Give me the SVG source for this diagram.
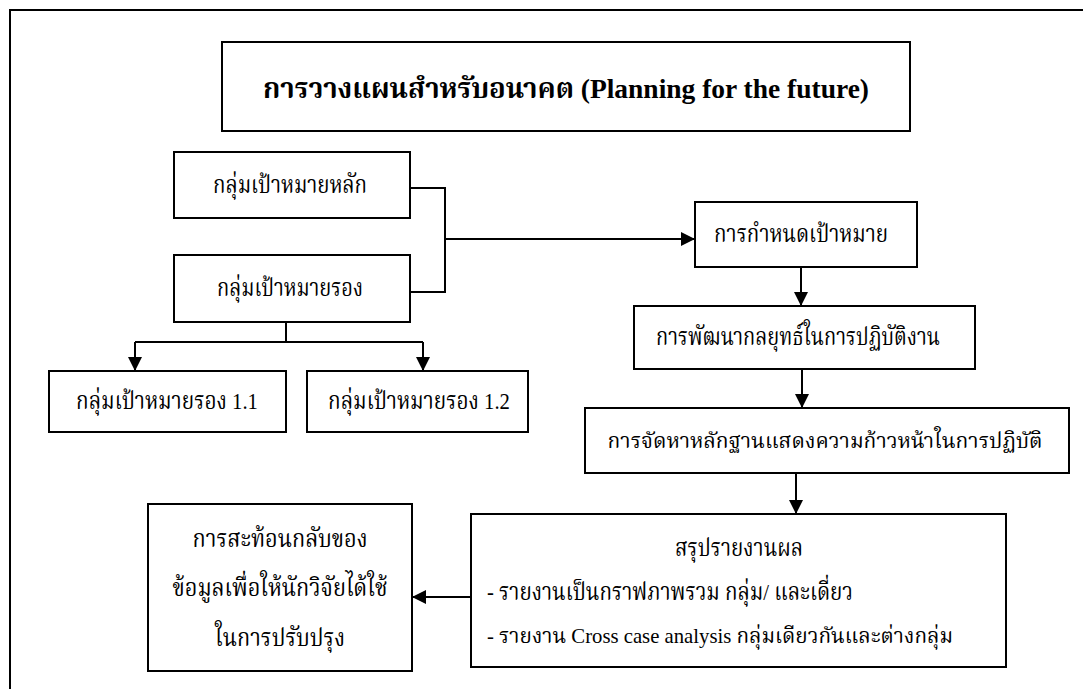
<svg xmlns="http://www.w3.org/2000/svg" width="1083" height="689" viewBox="0 0 1083 689">
<defs>
<style>
.box{fill:#fff;stroke:#000;stroke-width:2}
.ln{fill:none;stroke:#000;stroke-width:2}
.t{font-family:"Liberation Serif","Norasi","Kinnari","Noto Serif Thai","Noto Sans Thai",serif;font-size:24px;fill:#000}
.s{font-size:21px}
.c{text-anchor:middle}
.title{font-weight:bold;font-size:28px}
</style>
<marker id="ah" viewBox="0 0 10 10" refX="10" refY="5" markerWidth="14" markerHeight="14" markerUnits="userSpaceOnUse" orient="auto">
<path d="M0,0 L10,5 L0,10 Z" fill="#000"/>
</marker>
</defs>
<rect width="1083" height="689" fill="#fff"/>
<path class="ln" d="M10,689 V10 H1083"/>
<g id="title">
<rect class="box" x="222" y="42" width="688" height="89"/>
<text class="t c title" x="566" y="98" textLength="606" lengthAdjust="spacingAndGlyphs">การวางแผนสำหรับอนาคต (Planning for the future)</text>
</g>
<g id="main-target">
<rect class="box" x="174" y="152" width="236" height="66"/>
<text class="t c" x="290" y="193" textLength="154" lengthAdjust="spacingAndGlyphs">กลุ่มเป้าหมายหลัก</text>
</g>
<g id="secondary-target">
<rect class="box" x="174" y="255" width="236" height="67"/>
<text class="t c" x="290" y="296" textLength="146" lengthAdjust="spacingAndGlyphs">กลุ่มเป้าหมายรอง</text>
</g>
<g id="sub-1-1">
<rect class="box" x="49" y="371" width="237" height="61"/>
<text class="t c" x="167" y="409" textLength="182" lengthAdjust="spacingAndGlyphs">กลุ่มเป้าหมายรอง 1.1</text>
</g>
<g id="sub-1-2">
<rect class="box" x="307" y="371" width="221" height="61"/>
<text class="t c" x="419" y="409" textLength="182" lengthAdjust="spacingAndGlyphs">กลุ่มเป้าหมายรอง 1.2</text>
</g>
<g id="goal-setting">
<rect class="box" x="695" y="202" width="222" height="65"/>
<text class="t c" x="801" y="242" textLength="174" lengthAdjust="spacingAndGlyphs">การกำหนดเป้าหมาย</text>
</g>
<g id="strategy">
<rect class="box" x="634" y="306" width="341" height="63"/>
<text class="t c" x="798" y="345" textLength="284" lengthAdjust="spacingAndGlyphs">การพัฒนากลยุทธ์ในการปฏิบัติงาน</text>
</g>
<g id="evidence">
<rect class="box" x="585" y="408" width="484" height="65"/>
<text class="t s c" x="825" y="448" textLength="435" lengthAdjust="spacingAndGlyphs">การจัดหาหลักฐานแสดงความก้าวหน้าในการปฏิบัติ</text>
</g>
<g id="report">
<rect class="box" x="471" y="514" width="535" height="153"/>
<text class="t c" x="739" y="556" textLength="128" lengthAdjust="spacingAndGlyphs">สรุปรายงานผล</text>
<text class="t" x="487" y="600" textLength="366" lengthAdjust="spacingAndGlyphs">- รายงานเป็นกราฟภาพรวม กลุ่ม/ และเดี่ยว</text>
<text class="t s" x="487" y="643" textLength="466" lengthAdjust="spacingAndGlyphs">- รายงาน Cross case analysis กลุ่มเดียวกันและต่างกลุ่ม</text>
</g>
<g id="feedback">
<rect class="box" x="148" y="504" width="264" height="167"/>
<text class="t c" x="280" y="547" textLength="175" lengthAdjust="spacingAndGlyphs">การสะท้อนกลับของ</text>
<text class="t c" x="280" y="596" textLength="215" lengthAdjust="spacingAndGlyphs">ข้อมูลเพื่อให้นักวิจัยได้ใช้</text>
<text class="t c" x="280" y="646" textLength="130" lengthAdjust="spacingAndGlyphs">ในการปรับปรุง</text>
</g>
<g id="connectors">
<path class="ln" d="M410,188 H445 V292 H410"/>
<path class="ln" d="M445,239 H695" marker-end="url(#ah)"/>
<path class="ln" d="M286,322 V342"/>
<path class="ln" d="M135,342 H423"/>
<path class="ln" d="M135,342 V371" marker-end="url(#ah)"/>
<path class="ln" d="M423,342 V371" marker-end="url(#ah)"/>
<path class="ln" d="M801,267 V306" marker-end="url(#ah)"/>
<path class="ln" d="M802,369 V408" marker-end="url(#ah)"/>
<path class="ln" d="M796,473 V514" marker-end="url(#ah)"/>
<path class="ln" d="M471,597 H412" marker-end="url(#ah)"/>
</g>
</svg>
